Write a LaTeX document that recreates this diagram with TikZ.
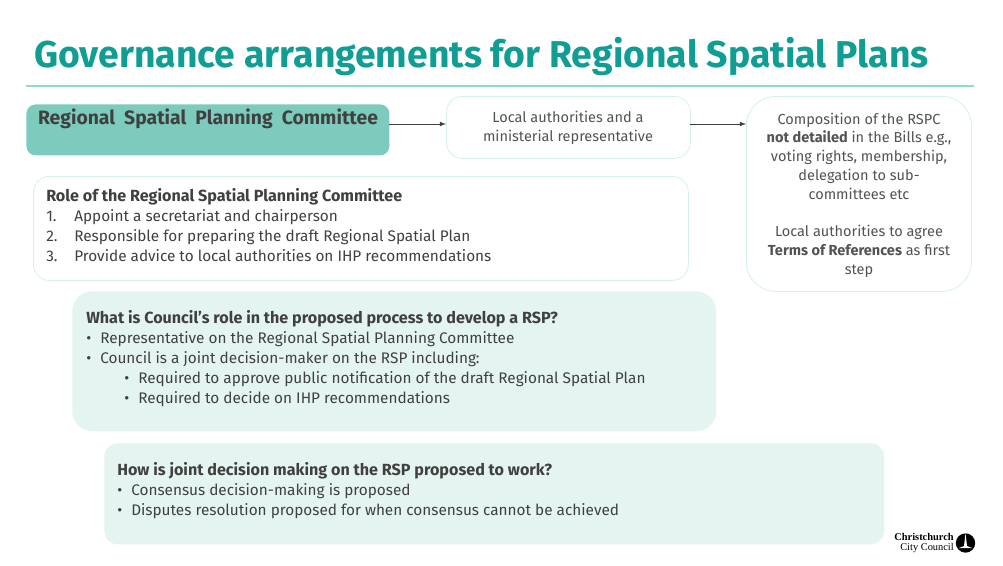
\documentclass[tikz,border=0pt]{standalone}
\usepackage{xcolor}
\usepackage{fontspec}
\setmainfont{Fira Sans}
\newfontfamily\logofont{Liberation Serif}
\usetikzlibrary{positioning}
\definecolor{titleteal}{HTML}{0F9D94}
\definecolor{ruleteal}{HTML}{8FDACD}
\definecolor{headteal}{HTML}{7DCBBD}
\definecolor{paleteal}{HTML}{E4F5F1}
\definecolor{edgeteal}{HTML}{D5F1EC}
\definecolor{bodygrey}{HTML}{404040}
\newcommand{\boxhead}[1]{{\fontsize{12.1pt}{15pt}\selectfont\bfseries #1}}
\newcommand{\itemno}[1]{\makebox[21pt][l]{#1}}
\newcommand{\itemdot}{\makebox[10.5pt][l]{•}}
\tikzset{
	panel/.style={draw=edgeteal, fill=white, line width=0.6pt, rounded corners=12pt, anchor=north west, inner sep=0pt},
	palepanel/.style={fill=paleteal, rounded corners=15pt, anchor=north west, inner sep=0pt},
	body/.style={text=bodygrey, font=\fontsize{11.5pt}{15pt}\selectfont, inner sep=0pt, align=left, anchor=north west},
	note/.style={text=bodygrey!90, font=\fontsize{10.9pt}{14.1pt}\selectfont, inner sep=0pt, align=center},
	link/.style={->, >=latex, draw=bodygrey, line width=0.6pt},
}
\begin{document}
\begin{tikzpicture}[x=0.75pt, y=-0.75pt]
		\useasboundingbox (0,0) rectangle (1003,565);

		\node[text=titleteal, font=\fontsize{28pt}{30pt}\selectfont\bfseries, inner sep=0pt, anchor=west] (title) at (34,57) {Governance arrangements for Regional Spatial Plans};
		\coordinate (ruleleft) at (26,86);
		\coordinate (ruleright) at (974,86);
		\draw[ruleteal, line width=0.9pt] (ruleleft) -- (ruleright);

		% top row
		\node[panel, draw=none, fill=headteal, rounded corners=7pt, minimum width=272.25pt, minimum height=38.25pt] (committee) at (26,104) {};
		\node[text=bodygrey, font=\fontsize{14.5pt}{15pt}\selectfont\bfseries, inner sep=0pt] (committeetext) at (208,119) {Regional\ \ Spatial\ \ Planning\ \ Committee};
		\node[panel, minimum width=183pt, minimum height=46.5pt] (members) at (446,96) {};
		\node[note] (memberstext) at (568,128) {Local authorities and a\\ministerial representative};
		\node[panel, rounded corners=22pt, minimum width=168.75pt, minimum height=146.25pt] (composition) at (746,96) {};
		\node[note, anchor=north] (compositiontext) at (859,112.5) {Composition of the RSPC\\\textbf{not detailed} in the Bills e.g.,\\voting rights, membership,\\delegation to sub-\\committees etc\\[14.1pt]Local authorities to agree\\\textbf{Terms of References} as first\\step};

		\coordinate (committeeout) at (389,124);
		\coordinate (membersin) at (446,124);
		\coordinate (membersout) at (690,124);
		\coordinate (compositionin) at (746,124);
		\draw[link] (committeeout) -- (membersin);
		\draw[link] (membersout) -- (compositionin);

		% role box
		\node[panel, minimum width=491.25pt, minimum height=78pt] (role) at (33,176) {};
		\node[body] (roletext) at (46,188) {\boxhead{Role of the Regional Spatial Planning Committee}\\\itemno{1.}Appoint a secretariat and chairperson\\\itemno{2.}Responsible for preparing the draft Regional Spatial Plan\\\itemno{3.}Provide advice to local authorities on IHP recommendations};

		% pale boxes
		\node[palepanel, minimum width=483pt, minimum height=105pt] (council) at (72,291) {};
		\node[body] (counciltext) at (86,310) {\boxhead{What is Council’s role in the proposed process to develop a RSP?}\\\itemdot Representative on the Regional Spatial Planning Committee\\\itemdot Council is a joint decision-maker on the RSP including:\\\hspace{28.5pt}\itemdot Required to approve public notification of the draft Regional Spatial Plan\\\hspace{28.5pt}\itemdot Required to decide on IHP recommendations};
		\node[palepanel, rounded corners=10pt, minimum width=585pt, minimum height=75.75pt] (joint) at (104,443) {};
		\node[body] (jointtext) at (117,462.5) {\boxhead{How is joint decision making on the RSP proposed to work?}\\\itemdot Consensus decision-making is proposed\\\itemdot Disputes resolution proposed for when consensus cannot be achieved};

		% logo
		\node[font=\logofont\fontsize{7.8pt}{7.6pt}\selectfont, inner sep=0pt, align=right, anchor=east] (logotext) at (954,543) {\textbf{Christchurch}\\City Council};
		\node[circle, fill=black, minimum size=14.5pt, inner sep=0pt] (logomark) at (965.5,543) {};
		\fill[white] (965.5,533) -- (967,546) -- (972,548) -- (959,548) -- (964,546) -- cycle;
	\end{tikzpicture}
\end{document}
